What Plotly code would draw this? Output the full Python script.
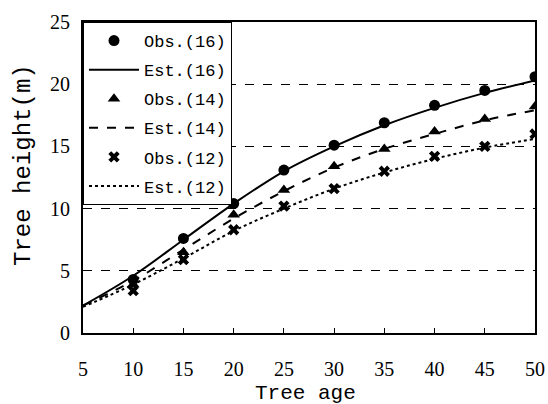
import plotly.graph_objects as go

# Observed tree heights (m) by stand age for site index classes 16, 14 and 12
ages = [10, 15, 20, 25, 30, 35, 40, 45, 50]
obs_16 = [4.3, 7.6, 10.4, 13.1, 15.1, 16.9, 18.3, 19.5, 20.6]
obs_14 = [3.9, 6.5, 9.5, 11.5, 13.4, 14.8, 16.2, 17.2, 18.2]
obs_12 = [3.4, 5.9, 8.3, 10.2, 11.6, 13.0, 14.2, 15.0, 16.0]

# Estimated height growth curves
est_ages = [5, 10, 15, 20, 25, 30, 35, 40, 45, 50]
est_16 = [2.2, 4.6, 7.5, 10.4, 13.0, 15.0, 16.7, 18.1, 19.3, 20.3]
est_14 = [2.2, 4.2, 6.7, 9.2, 11.4, 13.3, 14.8, 16.0, 17.1, 17.9]
est_12 = [2.1, 3.9, 6.0, 8.2, 10.0, 11.6, 12.9, 14.0, 14.9, 15.6]

x_ticks = [5, 10, 15, 20, 25, 30, 35, 40, 45, 50]
y_ticks = [0, 5, 10, 15, 20, 25]

series = [
    ("Obs.(16)", ages, obs_16, "markers", dict(symbol="circle", size=11), None),
    ("Est.(16)", est_ages, est_16, "lines", None, "solid"),
    ("Obs.(14)", ages, obs_14, "markers", dict(symbol="triangle-up", size=11), None),
    ("Est.(14)", est_ages, est_14, "lines", None, "dash"),
    ("Obs.(12)", ages, obs_12, "markers", dict(symbol="x", size=10), None),
    ("Est.(12)", est_ages, est_12, "lines", None, "dot"),
]

fig = go.Figure()
for i, (name, xs, ys, mode, marker, dash) in enumerate(series):
    kw = dict(x=xs, y=ys, name=name, mode=mode, legendgroup=str(i))
    if marker:
        kw["marker"] = dict(color="black", line=dict(width=0), **marker)
    else:
        kw["line"] = dict(color="black", width=2, dash=dash, shape="spline")
    fig.add_trace(go.Scatter(**kw))

axis_font = dict(family="Liberation Serif", size=20, color="black")
title_font = dict(family="Liberation Mono", color="black")

fig.update_layout(
    width=548,
    height=404,
    margin=dict(l=83, r=13, t=22, b=71),
    paper_bgcolor="white",
    plot_bgcolor="white",
    showlegend=True,
    legend=dict(
        x=0, y=1, xanchor="left", yanchor="top",
        bgcolor="white", bordercolor="black", borderwidth=1,
        font=dict(family="Liberation Mono", size=17, color="black"),
        itemwidth=50,
        tracegroupgap=4,
        traceorder="grouped",
    ),
    xaxis=dict(
        range=[5, 50],
        tickvals=x_ticks,
        ticks="inside", ticklen=5, tickcolor="black",
        ticklabelstandoff=17,
        automargin=False,
        showgrid=False, zeroline=False,
        showline=True, linecolor="black", linewidth=2, mirror=True,
        tickfont=axis_font,
    ),
    yaxis=dict(
        range=[0, 25],
        tickvals=y_ticks,
        ticks="", ticklabelstandoff=7,
        automargin=False,
        showgrid=True, gridcolor="black", gridwidth=1, griddash="dash",
        zeroline=False,
        showline=True, linecolor="black", linewidth=2, mirror=True,
        tickfont=axis_font,
    ),
    annotations=[
        dict(text="Tree age",
             xref="paper", yref="paper", x=0.493, y=-0.193,
             xanchor="center", yanchor="middle", showarrow=False,
             font=dict(size=21, **title_font)),
        dict(text="Tree height(m)", textangle=-90,
             xref="paper", yref="paper", x=-0.133, y=0.54,
             xanchor="center", yanchor="middle", showarrow=False,
             font=dict(size=24, **title_font)),
    ],
)

fig.write_html("out.html")
